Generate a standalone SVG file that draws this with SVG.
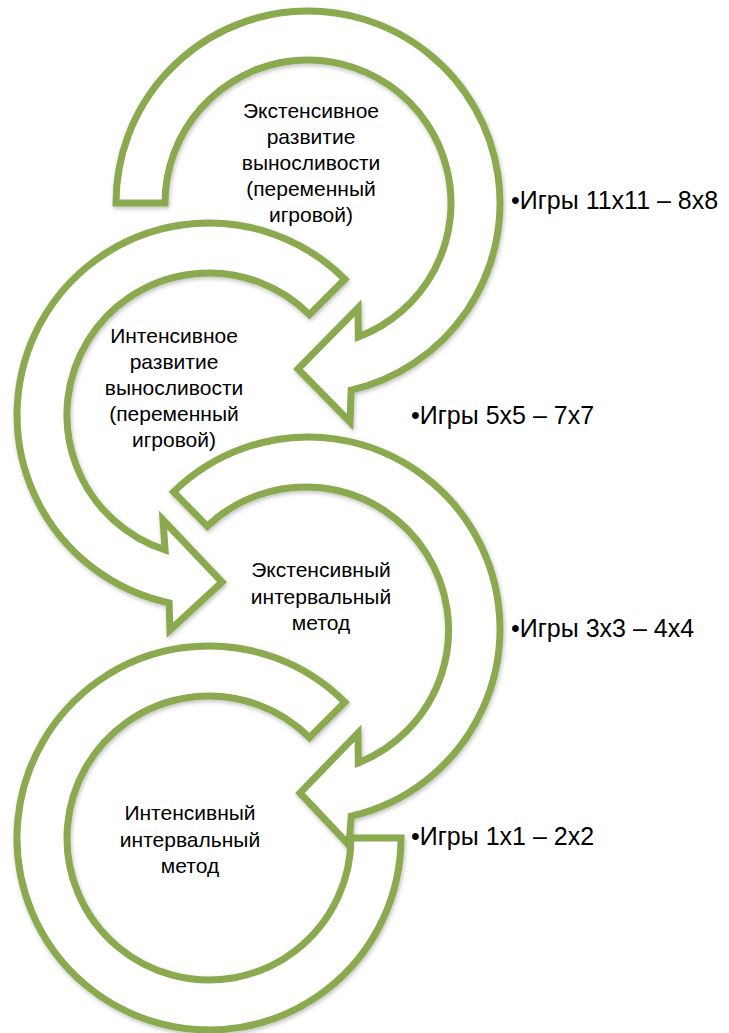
<svg xmlns="http://www.w3.org/2000/svg" width="729" height="1033" viewBox="0 0 729 1033">
<style>
.arrow{fill:#ffffff;stroke:#8BAA50;stroke-width:7;stroke-linejoin:miter;stroke-miterlimit:10;filter:url(#sh)}
.t{font-family:"Liberation Sans",Arial,sans-serif;font-size:21px;fill:#000;text-anchor:middle}
.lbl{font-family:"Liberation Sans",Arial,sans-serif;font-size:25px;fill:#000}
</style>
<defs>
<filter id="sh" x="-10%" y="-10%" width="120%" height="120%">
<feDropShadow dx="1" dy="2" stdDeviation="2" flood-color="#000" flood-opacity="0.25"/>
</filter>
</defs>
<rect width="729" height="1033" fill="#ffffff"/>
<g id="connectors">
<g id="arrow1"><path class="arrow" d="M116,203 A192,192 0 1 1 351.2,390.1 L350,422 L298,369 L358,308 L358.3,336.9 A143,143 0 1 0 165,203 Z"/></g>
<g id="arrow2"><path class="arrow" d="M344.8,279.2 A192,192 0 1 0 169.1,602.8 L170,630 L222,582 L163,520 L165.1,550 A142,142 0 1 1 309.4,314.6 Z"/></g>
<g id="arrow3"><path class="arrow" d="M173.6,491.9 A192,192 0 1 1 351.2,816.1 L349,845 L300,793 L358,733 L358.3,762.9 A143,143 0 1 0 207.2,526.2 Z"/></g>
<g id="arrow4"><path class="arrow" d="M344.8,702.2 A192,192 0 1 0 401,838 L351,838 A142,142 0 1 1 309.4,737.6 Z"/></g>
</g>
<g id="node1">
<text class="t" x="311" y="118">Экстенсивное</text>
<text class="t" x="311" y="144">развитие</text>
<text class="t" x="311" y="170">выносливости</text>
<text class="t" x="311" y="196">(переменный</text>
<text class="t" x="311" y="222">игровой)</text>
</g>
<g id="node2">
<text class="t" x="174" y="343">Интенсивное</text>
<text class="t" x="174" y="369">развитие</text>
<text class="t" x="174" y="395">выносливости</text>
<text class="t" x="174" y="421">(переменный</text>
<text class="t" x="174" y="447">игровой)</text>
</g>
<g id="node3">
<text class="t" x="321" y="577">Экстенсивный</text>
<text class="t" x="321" y="604">интервальный</text>
<text class="t" x="321" y="630">метод</text>
</g>
<g id="node4">
<text class="t" x="190" y="820">Интенсивный</text>
<text class="t" x="190" y="847">интервальный</text>
<text class="t" x="190" y="873">метод</text>
</g>
<g id="label1"><text class="lbl" x="511" y="209">•Игры 11х11 – 8х8</text></g>
<g id="label2"><text class="lbl" x="411" y="424">•Игры 5х5 – 7х7</text></g>
<g id="label3"><text class="lbl" x="511" y="637">•Игры 3х3 – 4х4</text></g>
<g id="label4"><text class="lbl" x="411" y="845">•Игры 1х1 – 2х2</text></g>
</svg>
